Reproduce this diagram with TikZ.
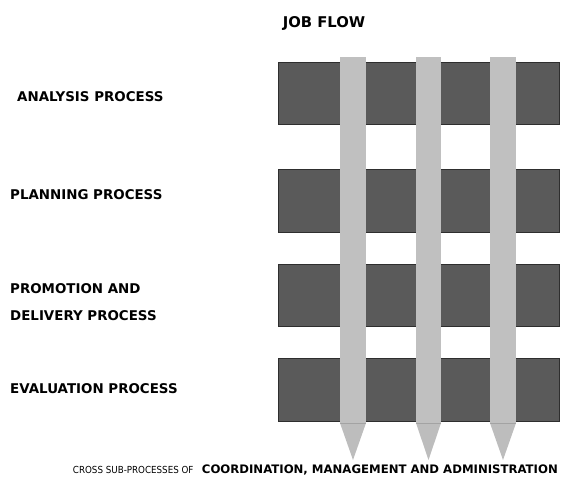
\documentclass[tikz,border=0pt]{standalone}
\usepackage{fontspec}
\setmainfont{DejaVu Sans}
\newfontfamily\condfont{DejaVu Sans Condensed}
\definecolor{procfill}{HTML}{5A5A5A}
\definecolor{procline}{HTML}{2E2E2E}
\definecolor{barfill}{HTML}{C0C0C0}
\definecolor{tipfill}{HTML}{BDBDBD}
\begin{document}
\begin{tikzpicture}[x=1pt,y=-1pt,
  proc/.style={draw=procline,line width=1pt,fill=procfill},
  lbl/.style={anchor=west,inner sep=0pt,font=\bfseries\fontsize{13.4}{15}\selectfont},
  bar/.style={fill=barfill,draw=none},
  tip/.style={fill=tipfill,draw=none}]
\useasboundingbox (0,0) rectangle (562,481);
\node[inner sep=0pt,font=\bfseries\fontsize{14.8}{17}\selectfont] (title) at (324,23) {JOB FLOW};
\foreach \t/\b [count=\i] in {63/125,170/232,264/326,358/421}{
  \draw[proc] (278,\t) rectangle (559,\b);
}
\foreach \l/\r [count=\i] in {340/366,416/441,490/516}{
  \fill[bar] (\l,57) rectangle (\r,423);
  \fill[tip] (\l,423) -- (\r,423) -- ({(\l+\r)/2},460) -- cycle;
  \draw[barfill!85!black,line width=0.5pt] (\l,423) -- (\r,423);
}
\node[lbl] (ana) at (17,97) {ANALYSIS PROCESS};
\node[lbl] (pla) at (10,195) {PLANNING PROCESS};
\node[lbl] (pro) at (10,289) {PROMOTION AND};
\node[lbl] (del) at (10,316) {DELIVERY PROCESS};
\node[lbl] (eva) at (10,389) {EVALUATION PROCESS};
\node[anchor=east,inner sep=0pt,font=\bfseries\fontsize{11.7}{13}\selectfont] (coord) at (558,470) {COORDINATION, MANAGEMENT AND ADMINISTRATION};
\node[anchor=east,inner sep=0pt,font=\condfont\fontsize{9.7}{11}\selectfont] (cross) at ([xshift=-8pt]coord.west) {CROSS SUB-PROCESSES OF};
\end{tikzpicture}
\end{document}
